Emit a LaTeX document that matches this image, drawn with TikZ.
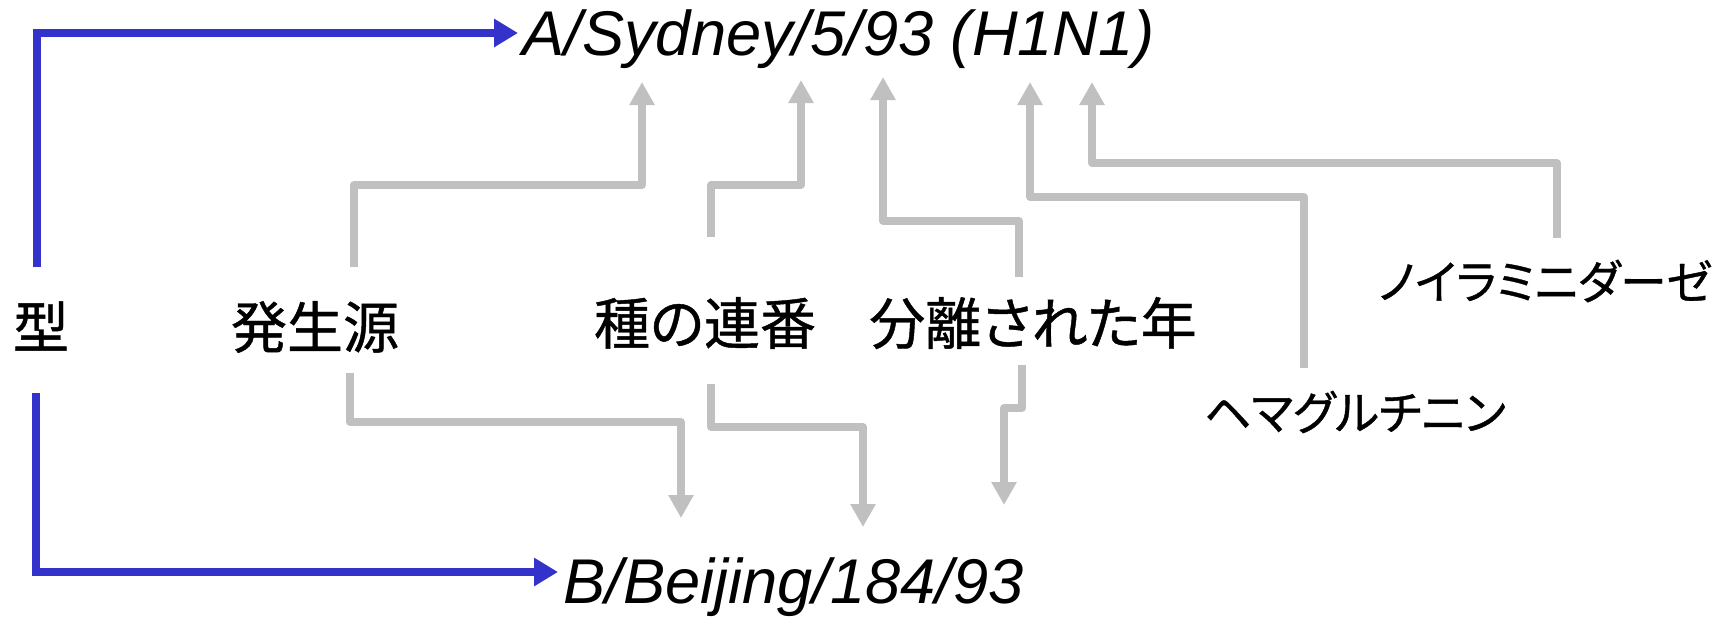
\documentclass[tikz,border=0pt]{standalone}
\usepackage{fontspec}
\setmainfont{Liberation Sans}
\newfontfamily\jpfont[RawFeature=+palt,FakeBold=0.8]{Noto Sans CJK JP}
\usetikzlibrary{arrows.meta,calc}
\definecolor{myblue}{RGB}{51,51,204}
\definecolor{mygray}{RGB}{192,192,192}
\tikzset{
  bluearr/.style={draw=myblue, line width=4.2pt, line join=miter, -{Triangle[length=12pt,width=13.5pt]}},
  grayarr/.style={draw=mygray, line width=3.8pt, line join=round, -{Triangle[length=11.5pt,width=12pt]}},
  lat/.style={font=\fontsize{31.6}{38}\selectfont\itshape, inner sep=0pt, anchor=base west},
  jpbig/.style={font=\jpfont\fontsize{28}{34}\selectfont, inner sep=0pt},
  jpsmall/.style={font=\jpfont\fontsize{23.3}{28}\selectfont, inner sep=0pt},
}
\begin{document}
\begin{tikzpicture}[x=0.5pt,y=-0.5pt]
\useasboundingbox (0,0) rectangle (1722,616);
% texts
\node[lat] (A) at (522,55) {A/Sydney/5/93 (H1N1)};
\node[lat] (B) at (563,603) {B/Beijing/184/93};
\node[jpbig] (type) at (41,326) {型};
\node[jpbig] (orig) at (315,327) {発生源};
\node[jpbig] (num) at (705,323) {種の連番};
\node[jpbig] (year) at (1033,323) {分離された年};
\node[jpsmall] (ha) at (1355,412) {ヘマグルチニン};
\node[jpsmall] (na) at (1545,281) {ノイラミニダーゼ};
% start and tip points
\coordinate (b1) at (37,267);  \coordinate (bt1) at (518,33);
\coordinate (b2) at (36,393);  \coordinate (bt2) at (558,572);
\coordinate (s1) at (354,267); \coordinate (t1) at (642,82);
\coordinate (s2) at (711,237); \coordinate (t2) at (801,80);
\coordinate (s3) at (1019,277);\coordinate (t3) at (883,77);
\coordinate (s4) at (1304,368);\coordinate (t4) at (1030,82);
\coordinate (s5) at (1557,238);\coordinate (t5) at (1092,82);
\coordinate (s6) at (350,373); \coordinate (t6) at (681,518);
\coordinate (s7) at (711,384); \coordinate (t7) at (863,527);
\coordinate (s8) at (1022,365);\coordinate (t8) at (1004,505);
% blue connectors
\draw[bluearr] (b1) |- (bt1);
\draw[bluearr] (b2) |- (bt2);
% gray connectors
\draw[grayarr] (s1) -- ++(0,-82) -| (t1);
\draw[grayarr] (s2) -- ++(0,-52) -| (t2);
\draw[grayarr] (s3) -- ++(0,-56) -| (t3);
\draw[grayarr] (s4) -- ++(0,-171) -| (t4);
\draw[grayarr] (s5) -- ++(0,-75) -| (t5);
\draw[grayarr] (s6) -- ++(0,49) -| (t6);
\draw[grayarr] (s7) -- ++(0,43) -| (t7);
\draw[grayarr] (s8) -- ++(0,43) -| (t8);
\end{tikzpicture}
\end{document}
